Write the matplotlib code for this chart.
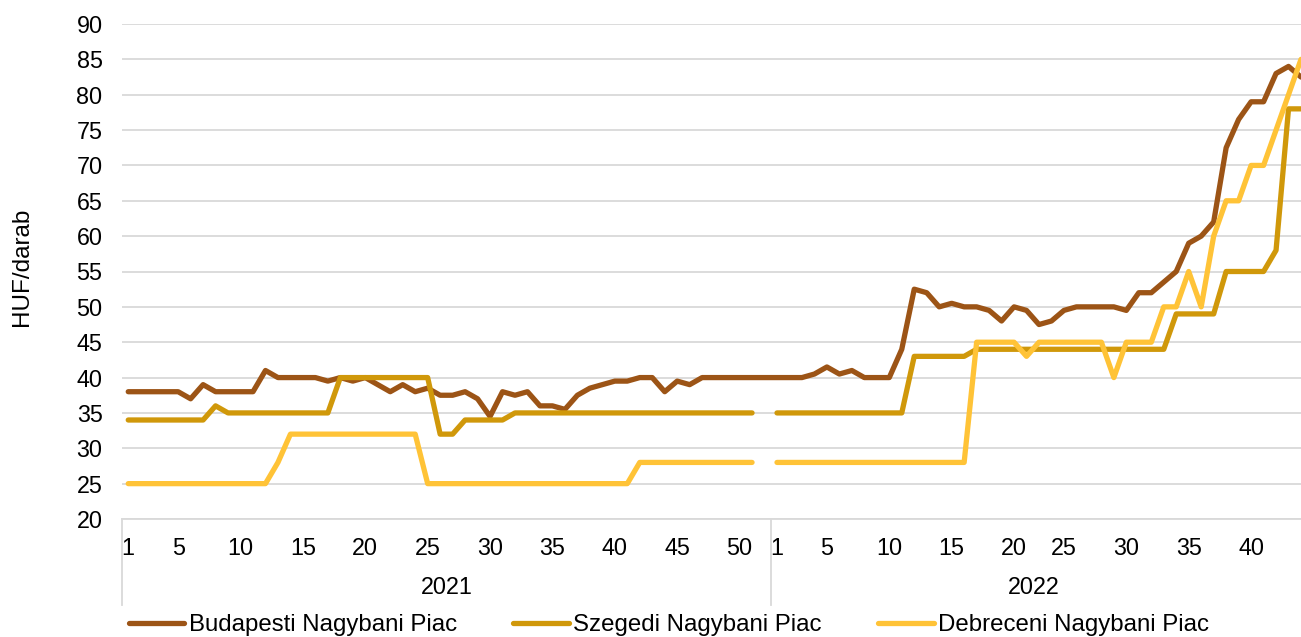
import numpy as np
import matplotlib
matplotlib.use("Agg")
import matplotlib.pyplot as plt
from matplotlib.transforms import blended_transform_factory

plt.rcParams['font.family'] = ['Liberation Sans', 'DejaVu Sans']

# ---------------- data ----------------
years = ["2021", "2022"]
weeks_2021 = list(range(1, 53))
weeks_2022 = list(range(1, 21)) + list(range(22, 45))

budapest_2021 = [38, 38, 38, 38, 38, 37, 39, 38, 38, 38, 38, 41, 40, 40, 40, 40,
                 39.5, 40, 39.5, 40, 39, 38, 39, 38, 38.5, 37.5, 37.5, 38, 37, 34.5,
                 38, 37.5, 38, 36, 36, 35.5, 37.5, 38.5, 39, 39.5, 39.5, 40, 40, 38,
                 39.5, 39, 40, 40, 40, 40, 40, 40]
szeged_2021 = [34, 34, 34, 34, 34, 34, 34, 36, 35, 35, 35, 35, 35, 35, 35, 35, 35,
               40, 40, 40, 40, 40, 40, 40, 40, 32, 32, 34, 34, 34, 34,
               35, 35, 35, 35, 35, 35, 35, 35, 35, 35, 35, 35, 35, 35, 35, 35, 35,
               35, 35, 35, None]
debrecen_2021 = [25, 25, 25, 25, 25, 25, 25, 25, 25, 25, 25, 25, 28,
                 32, 32, 32, 32, 32, 32, 32, 32, 32, 32, 32,
                 25, 25, 25, 25, 25, 25, 25, 25, 25, 25, 25, 25, 25, 25, 25, 25, 25,
                 28, 28, 28, 28, 28, 28, 28, 28, 28, 28, None]

budapest_2022 = [40, 40, 40, 40.5, 41.5, 40.5, 41, 40, 40, 40, 44, 52.5, 52, 50,
                 50.5, 50, 50, 49.5, 48, 50, 49.5, 47.5, 48, 49.5, 50, 50, 50, 50,
                 49.5, 52, 52, 53.5, 55, 59, 60, 62, 72.5, 76.5, 79, 79, 83, 84, 82.5]
szeged_2022 = [35] * 11 + [43] * 5 + [44] * 16 + [49] * 4 + [55] * 4 + [58, 78, 78]
debrecen_2022 = [28] * 16 + [45] * 4 + [43] + [45] * 6 + [40] + [45] * 3 + \
                [50, 50, 55, 50, 60, 65, 65, 70, 70, 75, 80, 85]

series_names = ["Budapesti Nagybani Piac", "Szegedi Nagybani Piac", "Debreceni Nagybani Piac"]
colors = ["#9C5416", "#D0980A", "#FFC337"]

y_ticks = list(range(20, 95, 5))

# ---------------- figure ----------------
W, H = 1301, 637
fig = plt.figure(figsize=(W / 100, H / 100), dpi=100)
ax_left, ax_right, ax_bottom, ax_top = 122, 1301, 519, 24
ax = fig.add_axes([ax_left / W, 1 - ax_bottom / H, (ax_right - ax_left) / W, (ax_bottom - ax_top) / H])

n21 = len(weeks_2021)
labels = weeks_2021 + weeks_2022
x = np.arange(len(labels))

def to_arr(a):
    return np.array([np.nan if v is None else v for v in a], dtype=float)

data = [budapest_2021 + budapest_2022, szeged_2021 + szeged_2022, debrecen_2021 + debrecen_2022]
for vals, name, c in zip(data, series_names, colors):
    ax.plot(x, to_arr(vals), color=c, lw=3.8, label=name,
            solid_capstyle='round', solid_joinstyle='round', zorder=3)

px_per_cat = 12.52
xmin = -0.5
xmax = xmin + (ax_right - ax_left) / px_per_cat
ax.set_xlim(xmin, xmax)
ax.set_ylim(20, 90)
ax.set_yticks(y_ticks)
ax.yaxis.grid(True, color="#D9D9D9", lw=1.3)
ax.set_axisbelow(True)
for s in ["top", "right", "left"]:
    ax.spines[s].set_visible(False)
ax.spines["bottom"].set_color("#D9D9D9")
ax.spines["bottom"].set_linewidth(1.3)

ax.set_xticks(x)
ax.set_xticklabels([str(w) if (w == 1 or w % 5 == 0) else "" for w in labels])
ax.tick_params(axis='x', length=0, pad=13, labelsize=16.8)
ax.tick_params(axis='y', length=0, pad=14, labelsize=16.8)

# category group separators and year labels
trans = blended_transform_factory(ax.transData, ax.transAxes)
sep_bottom = -(605 - ax_bottom) / (ax_bottom - ax_top)
for xs in [-0.5, n21 - 0.5]:
    ax.plot([xs, xs], [0, sep_bottom], transform=trans, color="#D9D9D9", lw=1.3, clip_on=False)
year_y = -(587 - ax_bottom) / (ax_bottom - ax_top)
centers = [(-0.5 + n21 - 0.5) / 2, (n21 - 0.5 + xmax) / 2]
for yr, cx in zip(years, centers):
    ax.text(cx, year_y, yr, transform=trans, ha='center', va='center', fontsize=16.8)

fig.text(22 / W, 1 - 267 / H, "HUF/darab", rotation=90, ha='center', va='center', fontsize=17.5)

leg = fig.legend(loc='center', bbox_to_anchor=(669 / W, 1 - 625 / H), ncol=3, frameon=False,
                 fontsize=17.3, handlelength=2.3, handletextpad=0.2, columnspacing=2.35,
                 borderpad=0, borderaxespad=0)

fig.savefig("out.png", dpi=100)
